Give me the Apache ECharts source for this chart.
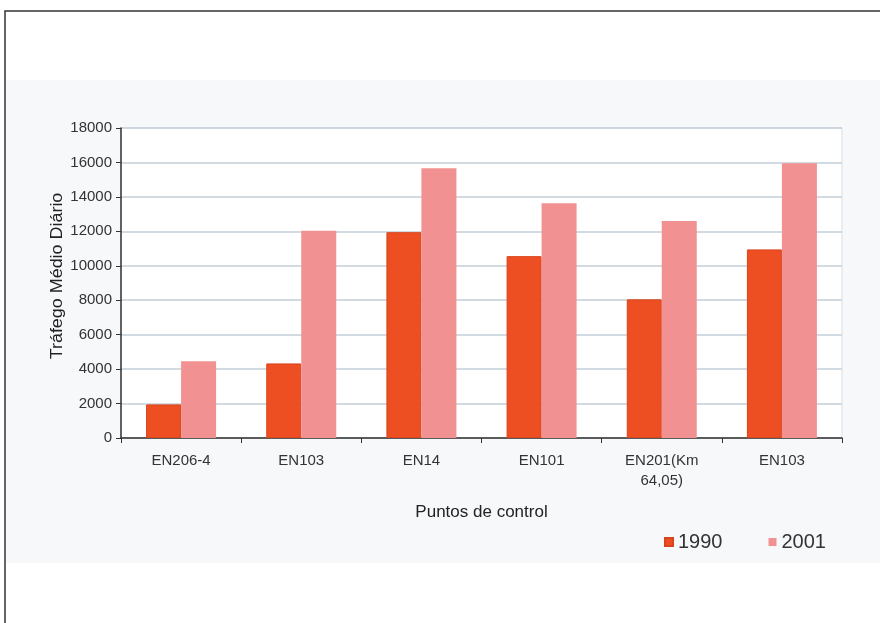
<!DOCTYPE html>
<html>
<head>
<meta charset="utf-8">
<script src="https://cdn.jsdelivr.net/npm/echarts@6/dist/echarts.min.js"></script>
<style>html,body{margin:0;padding:0;background:#fff;}#c{width:880px;height:623px;}</style>
</head>
<body>
<div id="c"></div>
<script>
var categories = ['EN206-4', 'EN103', 'EN14', 'EN101', 'EN201(Km\n64,05)', 'EN103'];
var values1990 = [1950, 4330, 11950, 10560, 8050, 10950];
var values2001 = [4460, 12030, 15660, 13630, 12600, 15950];
var seriesNames = ['1990', '2001'];
var yTitle = 'Tráfego Médio Diário';
var xTitle = 'Puntos de control';

var FONT = '"Liberation Sans", Arial, sans-serif';
var chart = echarts.init(document.getElementById('c'));
chart.setOption({
  animation: false,
  backgroundColor: '#ffffff',
  textStyle: { fontFamily: FONT },
  graphic: [
    { type: 'rect', z: -10, shape: { x: 6, y: 80, width: 874, height: 483 }, style: { fill: '#f6f8fa' } },
    { type: 'rect', z: 10, shape: { x: 5, y: 11, width: 900, height: 700 }, style: { fill: 'none', stroke: '#333', lineWidth: 1.5 } },
    { type: 'text', z: 10, x: 58, y: 276, rotation: Math.PI / 2, scaleX: 1.12,
      style: { text: yTitle, fontSize: 16, fontFamily: FONT, fill: '#222', align: 'center', verticalAlign: 'middle' } }
  ],
  legend: {
    data: seriesNames,
    left: 659, top: 527,
    icon: 'rect', itemWidth: 8, itemHeight: 8, itemGap: 46,
    textStyle: { fontSize: 20, color: '#333', fontFamily: FONT }
  },
  grid: {
    left: 121, right: 38, top: 128, bottom: 185,
    show: true, backgroundColor: '#ffffff', borderColor: '#d9dee3', borderWidth: 1
  },
  xAxis: {
    type: 'category',
    data: categories,
    axisLine: { lineStyle: { color: '#333', width: 1.5 } },
    axisTick: { show: true, length: 5, lineStyle: { color: '#333' } },
    axisLabel: { fontSize: 15, color: '#333', margin: 13, lineHeight: 20, fontFamily: FONT },
    name: xTitle, nameLocation: 'middle', nameGap: 66,
    nameTextStyle: { fontSize: 17, color: '#222', fontFamily: FONT }
  },
  yAxis: {
    type: 'value', min: 0, max: 18000, interval: 2000,
    axisLine: { show: true, lineStyle: { color: '#333', width: 1.5 } },
    axisTick: { show: true, length: 5, lineStyle: { color: '#333' } },
    axisLabel: { fontSize: 15, color: '#333', margin: 9, fontFamily: FONT,
      formatter: function (v) { return String(v); } },
    splitLine: { lineStyle: { color: '#c5cfd8', width: 1.5 } }
  },
  series: [
    { name: seriesNames[0], type: 'bar', data: values1990, barWidth: 35, barGap: '0%',
      itemStyle: { color: '#ee4f22', borderColor: '#d8441c', borderWidth: 1 } },
    { name: seriesNames[1], type: 'bar', data: values2001, barWidth: 35, barGap: '0%',
      itemStyle: { color: '#f29191' } }
  ]
});
</script>
</body>
</html>
